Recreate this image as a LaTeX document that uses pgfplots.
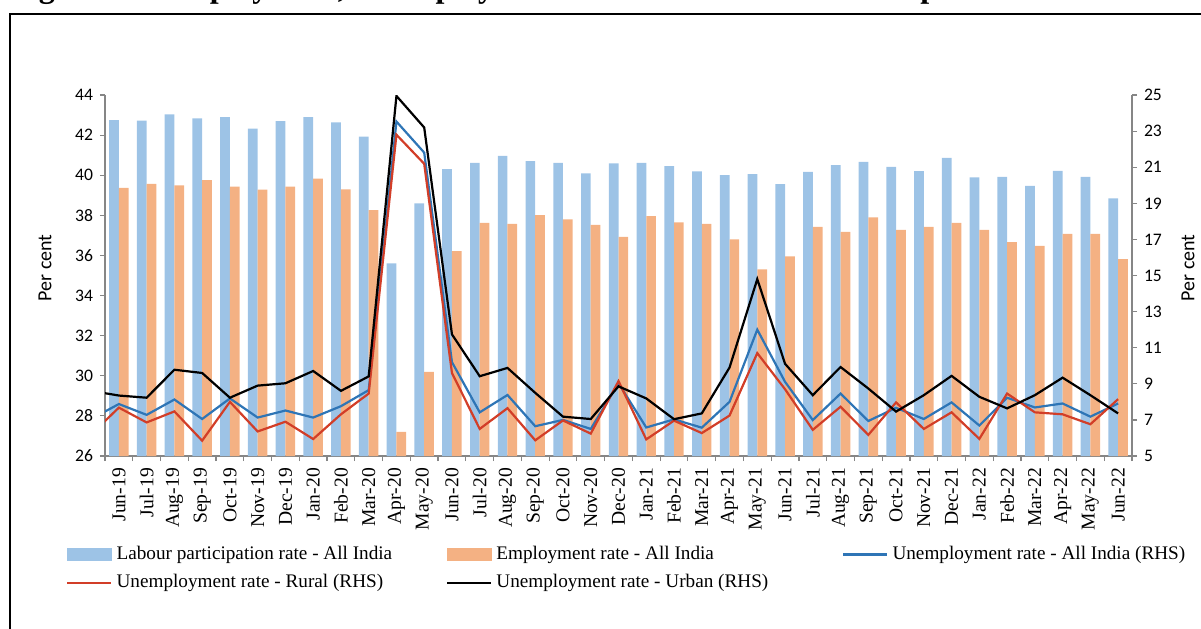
\documentclass[border=0pt]{standalone}
\usepackage{fontspec}
\setmainfont{Liberation Serif}
\newfontfamily\carl{Carlito}
\usepackage{pgfplots}
\usepackage{pgfplotstable}
\pgfplotsset{compat=1.18}

\definecolor{lprblue}{HTML}{9DC3E6}
\definecolor{erorange}{HTML}{F4B183}
\definecolor{urall}{RGB}{46,117,182}
\definecolor{urrural}{RGB}{210,62,40}
\definecolor{axisgray}{RGB}{134,134,134}

% bars, left axis (per cent)
\pgfplotstableread{
idx lpr er
0 42.75 39.37
1 42.72 39.57
2 43.03 39.50
3 42.83 39.76
4 42.90 39.43
5 42.33 39.28
6 42.70 39.43
7 42.90 39.83
8 42.63 39.30
9 41.92 38.26
10 35.60 27.20
11 38.60 30.20
12 40.30 36.22
13 40.62 37.63
14 40.97 37.57
15 40.70 38.01
16 40.62 37.80
17 40.09 37.52
18 40.59 36.93
19 40.62 37.96
20 40.46 37.65
21 40.19 37.57
22 40.01 36.80
23 40.06 35.31
24 39.56 35.95
25 40.17 37.42
26 40.50 37.17
27 40.67 37.90
28 40.42 37.28
29 40.20 37.42
30 40.87 37.62
31 39.89 37.27
32 39.92 36.67
33 39.47 36.48
34 40.22 37.08
35 39.92 37.08
36 38.84 35.82
}\bars

% unemployment rates, right axis (May-19 point is cut off by the axis)
\pgfplotstableread{
idx all rural urban
-1 7.05 6.20 8.61
0 7.88 7.68 8.35
1 7.28 6.86 8.23
2 8.13 7.47 9.78
3 7.05 5.85 9.60
4 8.19 8.00 8.23
5 7.13 6.36 8.90
6 7.52 6.90 9.03
7 7.13 5.94 9.71
8 7.76 7.31 8.61
9 8.65 8.46 9.41
10 23.53 22.80 24.95
11 21.81 21.19 23.20
12 10.20 9.60 11.74
13 7.42 6.50 9.42
14 8.38 7.65 9.88
15 6.65 5.87 8.50
16 7.00 6.97 7.18
17 6.50 6.24 7.05
18 9.03 9.15 8.86
19 6.58 5.92 8.19
20 7.03 6.96 7.04
21 6.57 6.27 7.36
22 8.00 7.24 9.90
23 12.00 10.70 14.80
24 9.11 8.70 10.11
25 6.99 6.45 8.37
26 8.46 7.73 9.93
27 6.94 6.17 8.74
28 7.67 7.97 7.46
29 7.05 6.50 8.37
30 7.97 7.42 9.44
31 6.69 5.95 8.28
32 8.23 8.46 7.64
33 7.69 7.42 8.37
34 7.91 7.31 9.34
35 7.18 6.76 8.37
36 7.91 8.15 7.36
}\lines

\pgfplotsset{
  common/.style={
    at={(52.5pt,-228pt)}, anchor=south west,
    scale only axis, width=513.5pt, height=180.5pt,
    xmin=-0.5, xmax=36.5,
    axis line style={axisgray, line width=0.6pt},
    tick style={axisgray, line width=0.6pt},
    tick align=outside, major tick length=2.5pt,
    /pgf/number format/assume math mode=true,
    yticklabel style={font=\carl\fontsize{8.8}{10}\selectfont},
  },
}

\begin{document}
\begin{tikzpicture}
\useasboundingbox (0,0) rectangle (600.5pt,-314pt);
\clip (0,0) rectangle (600.5pt,-314pt);

\node[anchor=base west, inner sep=0pt, font=\fontsize{16}{19}\selectfont\bfseries]
  at (5pt,1.5pt) {Figure 12: Employment, Unemployment and Labour Force Participation};
\draw[line width=0.7pt] (5pt,-330pt) -- (5pt,-7pt) -- (620pt,-7pt);

\begin{axis}[common,
  ymin=26, ymax=44, ytick={26,28,...,44},
  axis y line*=left, axis x line*=bottom,
  xtick={0,...,36},
  xticklabels={Jun-19,Jul-19,Aug-19,Sep-19,Oct-19,Nov-19,Dec-19,Jan-20,Feb-20,Mar-20,Apr-20,May-20,Jun-20,Jul-20,Aug-20,Sep-20,Oct-20,Nov-20,Dec-20,Jan-21,Feb-21,Mar-21,Apr-21,May-21,Jun-21,Jul-21,Aug-21,Sep-21,Oct-21,Nov-21,Dec-21,Jan-22,Feb-22,Mar-22,Apr-22,May-22,Jun-22},
  major x tick style={draw=none},
  minor xtick={-0.5,0.5,...,36.5}, minor tick length=2.5pt,
  xticklabel style={rotate=90, anchor=east, font=\fontsize{9.8}{12}\selectfont},
  every axis y label/.style={at={(axis description cs:-0.0584,0.521)}, rotate=90, anchor=center},
  ylabel={\carl\fontsize{10}{12}\selectfont Per cent},
]
\addplot[ybar, bar width=0.35, bar shift=-0.175, fill=lprblue, draw=none] table[x=idx, y=lpr] {\bars};
\addplot[ybar, bar width=0.35, bar shift=0.175, fill=erorange, draw=none] table[x=idx, y=er] {\bars};
\end{axis}

\begin{axis}[common,
  ymin=5, ymax=25, ytick={5,7,...,25},
  axis y line*=right, axis x line=none,
  every axis y label/.style={at={(axis description cs:1.0545,0.521)}, rotate=90, anchor=center},
  ylabel={\carl\fontsize{10}{12}\selectfont Per cent},
  legend columns=3, legend cell align=left,
  legend image code/.code={\draw[#1] (0pt,0pt) -- (22pt,0pt);},
  legend style={draw=none, fill=none, inner sep=0pt,
    at={(axis description cs:-0.038,-0.238)}, anchor=north west,
    font=\fontsize{9.6}{11.5}\selectfont,
    /tikz/column 2/.append style={column sep=25pt},
    /tikz/column 4/.append style={column sep=35pt},
    row sep=2pt},
]
\addlegendimage{legend image code/.code={\fill[lprblue] (0pt,-3.2pt) rectangle (22pt,3.2pt);}}
\addlegendentry{Labour participation rate - All India}
\addlegendimage{legend image code/.code={\fill[erorange] (0pt,-3.2pt) rectangle (22pt,3.2pt);}}
\addlegendentry{Employment rate - All India}
\addplot[urall, line width=1.1pt] table[x=idx, y=all] {\lines};
\addlegendentry{Unemployment rate - All India (RHS)}
\addplot[urrural, line width=1.1pt] table[x=idx, y=rural] {\lines};
\addlegendentry{Unemployment rate - Rural (RHS)}
\addplot[black, line width=1.1pt] table[x=idx, y=urban] {\lines};
\addlegendentry{Unemployment rate - Urban (RHS)}
\end{axis}
\end{tikzpicture}
\end{document}
